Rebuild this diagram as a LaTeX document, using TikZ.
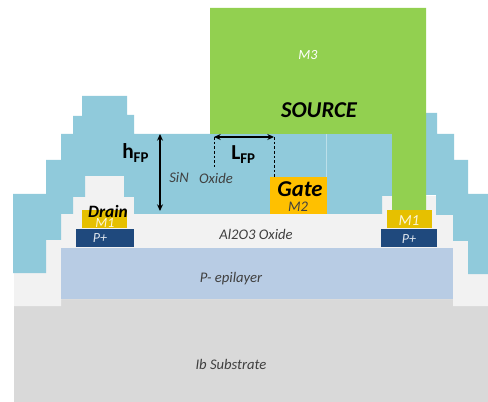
\documentclass[tikz,border=0pt]{standalone}
\usepackage{fontspec}
\setmainfont{Carlito}
\usetikzlibrary{arrows.meta}
\definecolor{sinblue}{HTML}{90CADB}
\definecolor{oxgrey}{HTML}{F2F2F2}
\definecolor{subgrey}{HTML}{D9D9D9}
\definecolor{epi}{HTML}{B8CCE4}
\definecolor{msgreen}{HTML}{92D050}
\definecolor{gateor}{HTML}{FFC000}
\definecolor{mone}{HTML}{E6C000}
\definecolor{pplus}{HTML}{1F497D}
\definecolor{txtgrey}{HTML}{404040}
\tikzset{x=0.75pt,y=-0.75pt,
  lay/.style={fill=#1,draw=none},
  lab/.style={font=\itshape\fontsize{11}{12}\selectfont,text=txtgrey,inner sep=0pt},
  wlab/.style={font=\itshape\fontsize{10.5}{12}\selectfont,text=white,inner sep=0pt},
  big/.style={font=\bfseries\itshape\fontsize{#1}{#1}\selectfont,text=black,inner sep=0pt},
  dim/.style={font=\fontsize{16}{16}\selectfont\bfseries,text=black,inner sep=0pt},
  dimline/.style={line width=1pt,black,{Stealth[length=5pt,width=4.5pt]}-{Stealth[length=5pt,width=4.5pt]}},
  guide/.style={line width=0.6pt,black,dash pattern=on 2pt off 1.5pt}}
\begin{document}
\begin{tikzpicture}
\useasboundingbox (0,0) rectangle (488,402);
% substrate
\fill[lay=subgrey] (14,306) -- (61,306) -- (61,299) -- (453,299) -- (453,306) -- (488,306) -- (488,402) -- (14,402) -- cycle;
% oxide
\fill[lay=oxgrey] (14,273) -- (46,273) -- (46,240) -- (61,240) -- (61,214) -- (73,214) -- (73,197) -- (85,197) -- (85,176) -- (124,176) -- (124,197) -- (134,197) -- (134,214) -- (453,214) -- (453,241) -- (468,241) -- (468,274) -- (488,274) -- (488,306) -- (453,306) -- (453,299) -- (61,299) -- (61,306) -- (14,306) -- cycle;
\fill[lay=oxgrey] (382,196) rectangle (436,214);
% SiN
\fill[lay=sinblue] (13,194) -- (46,194) -- (46,160) -- (61,160) -- (61,134) -- (73,134) -- (73,116) -- (82,116) -- (82,96) -- (127,96) -- (127,115) -- (134,115) -- (134,134) -- (392,134) -- (392,196) -- (382,196) -- (382,214) -- (134,214) -- (134,197) -- (124,197) -- (124,176) -- (85,176) -- (85,197) -- (73,197) -- (73,214) -- (61,214) -- (61,240) -- (46,240) -- (46,273) -- (13,273) -- cycle;
\fill[lay=sinblue] (426,113) -- (437,113) -- (437,134) -- (454,134) -- (454,160) -- (468,160) -- (468,194) -- (488,194) -- (488,274) -- (468,274) -- (468,241) -- (453,241) -- (453,215) -- (436,215) -- (436,195) -- (426,195) -- cycle;
\draw[white!40!sinblue,line width=0.5pt] (326,134) -- (326,177);
% epi
\fill[lay=epi] (61,248) rectangle (453,299);
% source
\fill[lay=msgreen] (210,8) -- (426,8) -- (426,210) -- (392,210) -- (392,134) -- (210,134) -- cycle;
% contacts
\fill[lay=mone] (82,210) rectangle (127,228);
\fill[lay=pplus] (76,229) rectangle (134,247);
\fill[lay=mone] (387,210) rectangle (432,228);
\fill[lay=pplus] (381,229) rectangle (437,247);
\fill[lay=gateor] (270,177) rectangle (327,214);
% labels
\node[wlab] (m3) at (308,55) {M3};
\node[big=17] (src) at (319,110) {SOURCE};
\node[lab] (sin) at (179,178) {SiN};
\node[lab] (oxd) at (216,178) {Oxide};
\node[big=17] (gate) at (300,189) {Gate};
\node[lab] (m2) at (298,207) {M2};
\node[big=13] (drain) at (108,211) {Drain};
\node[wlab,text=white!85!mone] (m1l) at (105,223) {M1};
\node[wlab,text=white!85!pplus] (pl) at (100,238) {P+};
\node[wlab,font=\itshape\fontsize{11.5}{12}\selectfont,text=white!85!mone] (m1r) at (409,221) {M1};
\node[wlab,text=white!85!pplus] (pr) at (409,239) {P+};
\node[lab] (al) at (256,234) {Al2O3 Oxide};
\node[lab] (ep) at (231,279) {P- epilayer};
\node[lab] (ib) at (231,364) {Ib Substrate};
\node[dim,anchor=base west] (h) at (122,159) {h\textsubscript{FP}};
\node[dim,anchor=base west] (l) at (231,160) {L\textsubscript{FP}};
% dimensions
\coordinate (ht) at (160,134); \coordinate (hb) at (160,211);
\draw[dimline] (ht) -- (hb);
\coordinate (la) at (214,137); \coordinate (lb) at (274,137);
\draw[dimline] (la) -- (lb);
\coordinate (ga) at (214,167); \coordinate (gb) at (274,177);
\draw[guide] (la) -- (ga);
\draw[guide] (lb) -- (gb);
\end{tikzpicture}
\end{document}
